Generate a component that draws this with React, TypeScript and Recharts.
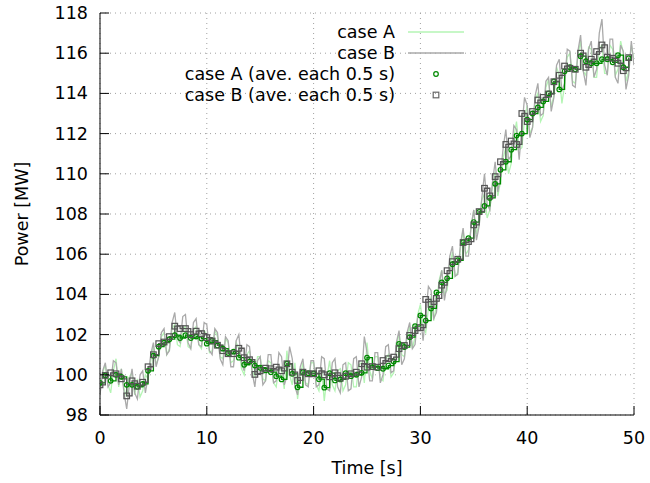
import React from 'react';
import { LineChart, Line, XAxis, YAxis, CartesianGrid } from 'recharts';

// raw signals, sampled every 0.25 s from 0 to 50 s
const caseARaw = [
  99.2, 100.1, 100.5, 99.5, 99.1, 100.2, 100.8, 99.4, 100.3, 99.3,
  98.9, 99.9, 100.1, 99.0, 99.8, 98.9, 99.2, 100.0, 99.8, 100.7,
  101.4, 100.5, 100.9, 101.9, 102.1, 101.0, 101.3, 102.3, 102.5, 101.5,
  101.4, 102.3, 102.4, 101.4, 101.3, 102.2, 102.4, 101.5, 101.3, 102.2,
  102.0, 101.1, 101.2, 102.2, 101.9, 100.9, 100.8, 101.8, 101.6, 100.6,
  100.7, 101.6, 101.3, 100.3, 100.0, 101.0, 101.2, 100.2, 99.9, 100.9,
  100.9, 99.8, 99.7, 100.7, 100.6, 99.6, 99.4, 100.4, 100.2, 99.3,
  101.2, 100.0, 99.5, 100.6, 98.8, 99.9, 100.6, 99.6, 99.5, 100.6,
  100.6, 99.5, 99.2, 100.3, 98.7, 99.9, 100.7, 99.5, 99.2, 100.2,
  100.3, 99.2, 99.5, 100.6, 100.5, 99.4, 99.4, 100.5, 100.6, 99.6,
  101.6, 100.2, 99.8, 100.9, 100.9, 99.8, 99.7, 100.8, 101.0, 99.9,
  100.1, 101.2, 102.1, 101.0, 100.9, 101.9, 102.4, 101.3, 101.9, 103.0,
  103.5, 102.4, 102.1, 103.3, 103.9, 102.7, 103.5, 104.7, 105.2, 104.0,
  104.2, 105.4, 106.1, 104.9, 105.1, 106.3, 107.2, 106.0, 106.2, 107.4,
  108.2, 107.0, 107.5, 108.7, 109.0, 107.8, 108.2, 109.4, 110.1, 108.9,
  109.6, 110.8, 111.3, 110.0, 110.5, 111.8, 112.6, 111.2, 111.3, 112.7,
  113.4, 112.0, 112.3, 113.7, 114.0, 112.6, 112.9, 114.3, 114.7, 113.3,
  113.9, 115.3, 114.9, 113.5, 114.4, 115.8, 116.0, 114.6, 114.5, 115.9,
  116.6, 115.1, 114.9, 116.3, 116.2, 114.8, 114.8, 116.2, 116.4, 115.0,
  115.0, 116.4, 116.2, 114.9, 115.2, 116.6, 116.0, 114.6, 115.1, 116.4,
  115.6,
];

const caseBRaw = [
  99.0, 100.2, 100.6, 99.4, 99.6, 100.7, 100.6, 99.5, 100.3, 99.1,
  98.3, 99.5, 100.3, 99.1, 98.8, 100.0, 100.2, 99.1, 99.9, 101.0,
  101.6, 100.4, 100.9, 102.1, 102.3, 101.0, 101.2, 102.6, 103.1, 101.8,
  101.6, 102.9, 103.0, 101.6, 101.3, 102.6, 102.8, 101.5, 101.4, 102.6,
  102.5, 101.2, 101.0, 102.3, 102.1, 100.8, 100.5, 101.9, 101.7, 100.4,
  100.4, 101.7, 102.0, 100.6, 100.2, 101.5, 101.4, 100.1, 99.4, 100.7,
  100.9, 99.5, 99.7, 101.0, 101.0, 99.6, 99.7, 101.1, 100.9, 99.5,
  99.9, 101.4, 100.8, 99.4, 99.0, 100.4, 100.8, 99.5, 99.4, 100.7,
  100.7, 99.4, 99.5, 100.9, 100.8, 99.3, 99.2, 100.6, 100.8, 99.4,
  99.1, 100.5, 100.6, 99.2, 99.3, 100.8, 100.9, 99.4, 99.9, 101.9,
  101.1, 99.7, 99.7, 101.1, 101.1, 99.6, 100.0, 101.4, 101.5, 100.1,
  100.2, 101.6, 102.2, 100.5, 100.8, 102.1, 102.6, 101.3, 101.5, 102.9,
  103.0, 101.7, 103.0, 104.4, 104.2, 102.8, 103.1, 104.5, 105.2, 103.7,
  104.5, 105.9, 106.4, 104.9, 105.0, 106.5, 107.3, 105.9, 105.9, 107.4,
  108.2, 106.7, 107.4, 108.8, 110.0, 108.5, 108.2, 109.6, 110.6, 109.1,
  109.9, 111.3, 112.2, 110.7, 110.9, 112.4, 112.2, 110.7, 112.3, 113.8,
  113.4, 111.8, 112.3, 113.9, 114.5, 112.9, 113.0, 114.6, 114.8, 113.1,
  113.8, 115.4, 115.7, 114.1, 114.5, 116.2, 116.1, 114.4, 114.3, 116.1,
  116.9, 115.1, 114.4, 116.2, 116.6, 114.8, 115.2, 117.0, 117.7, 115.4,
  114.9, 116.7, 116.7, 114.8, 114.5, 116.4, 116.1, 114.2, 114.9, 116.6,
  115.4,
];

// averages over each 0.5 s window, t = 0, 0.5, ... 49.5
const caseAAve = [
  99.6, 99.97, 99.7, 100.0, 99.9, 99.5, 99.5, 99.4, 99.55, 100.2,
  100.95, 101.4, 101.6, 101.77, 101.97, 101.83, 101.97, 101.83, 101.9, 101.8,
  101.55, 101.7, 101.46, 101.3, 101.08, 101.15, 100.85, 100.5, 100.65, 100.46,
  100.35, 100.22, 100.13, 99.93, 99.77, 100.55, 100.05, 99.38, 100.13, 100.08,
  100.07, 99.78, 99.36, 100.08, 99.72, 99.77, 100.08, 99.93, 100.0, 100.1,
  100.85, 100.38, 100.33, 100.3, 100.46, 100.66, 101.54, 101.38, 101.87, 102.42,
  102.95, 102.7, 103.3, 104.1, 104.6, 104.8, 105.5, 105.7, 106.6, 106.8,
  107.6, 108.1, 108.4, 108.8, 109.5, 110.2, 110.6, 111.2, 111.9, 112.0,
  112.7, 113.0, 113.3, 113.6, 114.0, 114.6, 114.2, 115.1, 115.3, 115.2,
  115.85, 115.6, 115.5, 115.5, 115.7, 115.7, 115.55, 115.9, 115.3, 115.75,
];

const caseBAve = [
  99.5, 99.97, 100.1, 100.05, 99.8, 98.95, 99.7, 99.43, 99.63, 100.4,
  101.0, 101.55, 101.63, 101.9, 102.42, 102.3, 102.3, 102.0, 102.17, 102.05,
  101.85, 101.68, 101.47, 101.2, 101.05, 101.05, 101.32, 100.85, 100.75, 100.02,
  100.2, 100.33, 100.3, 100.38, 100.2, 100.55, 100.13, 99.72, 100.13, 100.05,
  100.05, 100.2, 100.0, 99.9, 100.1, 99.83, 99.93, 100.05, 100.13, 100.55,
  100.38, 100.41, 100.38, 100.71, 100.8, 100.88, 101.3, 101.46, 101.96, 102.2,
  102.35, 103.75, 103.5, 103.8, 104.46, 105.18, 105.63, 105.75, 106.58, 106.63,
  107.46, 108.12, 109.28, 108.9, 109.86, 110.6, 111.46, 111.63, 111.46, 113.0,
  112.6, 113.1, 113.67, 113.8, 113.97, 114.58, 114.9, 115.36, 115.25, 115.2,
  116.0, 115.3, 115.7, 116.08, 116.41, 115.8, 115.75, 115.5, 115.13, 115.78,
];

const xTicks = [0, 10, 20, 30, 40, 50];
const yTicks = [98, 100, 102, 104, 106, 108, 110, 112, 114, 116, 118];

const RAW_STEP = 0.25;
const AVE_STEP = 0.5;

const rawA = caseARaw.map((v, i) => ({ t: i * RAW_STEP, v }));
const rawB = caseBRaw.map((v, i) => ({ t: i * RAW_STEP, v }));
const aveA = caseAAve.map((v, i) => ({ t: i * AVE_STEP, v }));
const aveB = caseBAve.map((v, i) => ({ t: i * AVE_STEP, v }));

const FONT = '"DejaVu Sans", sans-serif';
const FS = 17.5;
const TICK_LEN = 9;

const BottomTick = ({ x, y, payload }: any) => (
  <g>
    <line x1={x} y1={y} x2={x} y2={y - TICK_LEN} stroke="#000" />
    <text x={x} y={y + 29} textAnchor="middle" fontSize={FS} fontFamily={FONT} fill="#000">
      {payload.value}
    </text>
  </g>
);
const TopTick = ({ x, y }: any) => (
  <line x1={x} y1={y} x2={x} y2={y + TICK_LEN} stroke="#000" />
);
const LeftTick = ({ x, y, payload }: any) => (
  <g>
    <line x1={x} y1={y} x2={x + TICK_LEN} y2={y} stroke="#000" />
    <text x={x - 12} y={y + 6} textAnchor="end" fontSize={FS} fontFamily={FONT} fill="#000">
      {payload.value}
    </text>
  </g>
);
const RightTick = ({ x, y }: any) => (
  <line x1={x} y1={y} x2={x - TICK_LEN} y2={y} stroke="#000" />
);

const circleDot = (p: any) =>
  p.cx == null ? null : (
    <circle key={`c${p.index}`} cx={p.cx} cy={p.cy} r={2.3} fill="none" stroke="#008a00" strokeWidth={1.2} />
  );
const squareDot = (p: any) =>
  p.cx == null ? null : (
    <rect key={`s${p.index}`} x={p.cx - 2.8} y={p.cy - 2.8} width={5.6} height={5.6} fill="none" stroke="#555" strokeWidth={1.2} />
  );

const legendRows = [
  { label: 'case A', kind: 'line', color: '#b4f5b4' },
  { label: 'case B', kind: 'line', color: '#aaaaaa' },
  { label: 'case A (ave. each 0.5 s)', kind: 'circle', color: '#008a00' },
  { label: 'case B (ave. each 0.5 s)', kind: 'square', color: '#666' },
];

const KeyBox = () => (
  <svg width={650} height={120} style={{ position: 'absolute', left: 0, top: 0, pointerEvents: 'none' }}>
    {legendRows.map((r, i) => {
      const y = 32 + i * 21;
      return (
        <g key={r.label}>
          <text x={395} y={y + 6} textAnchor="end" fontSize={FS} fontFamily={FONT} fill="#000">
            {r.label}
          </text>
          {r.kind === 'line' && <line x1={408} x2={464} y1={y} y2={y} stroke={r.color} strokeWidth={1.3} />}
          {r.kind === 'circle' && <circle cx={436} cy={y} r={2.3} fill="none" stroke={r.color} strokeWidth={1.2} />}
          {r.kind === 'square' && <rect x={433.2} y={y - 2.8} width={5.6} height={5.6} fill="none" stroke={r.color} strokeWidth={1.2} />}
        </g>
      );
    })}
  </svg>
);

const YLabel = ({ viewBox }: any) => {
  const cx = viewBox.x + 22;
  const cy = viewBox.y + viewBox.height / 2;
  return (
    <text x={cx} y={cy} transform={`rotate(-90 ${cx} ${cy})`} textAnchor="middle" dominantBaseline="central"
      fontSize={FS} fontFamily={FONT} fill="#000">
      Power [MW]
    </text>
  );
};

export default function App() {
  return (
    <div style={{ position: 'relative', width: 650, height: 483, background: '#fff' }}>
      <style>{`body{margin:0}`}</style>
      <LineChart width={650} height={483} margin={{ top: 13, right: 16, bottom: 0, left: 0 }}>
        <CartesianGrid stroke="#a0a0a0" strokeDasharray="1 4" horizontalValues={yTicks} verticalValues={xTicks} />
        <XAxis dataKey="t" type="number" domain={[0, 50]} ticks={xTicks} interval={0} allowDataOverflow
          height={68} tickSize={0} tickMargin={0} tickLine={false} tick={<BottomTick />}
          axisLine={{ stroke: '#000' }}
          label={{ value: 'Time [s]', position: 'insideBottom', offset: 9, fontSize: FS, fontFamily: FONT, fill: '#000' }} />
        <XAxis xAxisId="top" orientation="top" dataKey="t" type="number" domain={[0, 50]} ticks={xTicks} interval={0}
          allowDataOverflow height={0} tickSize={0} tickMargin={0} tickLine={false} tick={<TopTick />}
          axisLine={{ stroke: '#000' }} />
        <YAxis type="number" domain={[98, 118]} ticks={yTicks} interval={0} allowDataOverflow width={100}
          tickSize={0} tickMargin={0} tickLine={false} tick={<LeftTick />} axisLine={{ stroke: '#000' }}
          label={<YLabel />} />
        <YAxis yAxisId="right" orientation="right" type="number" domain={[98, 118]} ticks={yTicks} interval={0}
          allowDataOverflow width={0} tickSize={0} tickMargin={0} tickLine={false} tick={<RightTick />}
          axisLine={{ stroke: '#000' }} />
        <Line data={rawA} dataKey="v" type="linear" stroke="#b4f5b4" strokeWidth={1.3} dot={false} isAnimationActive={false} />
        <Line data={rawB} dataKey="v" type="linear" stroke="#aaaaaa" strokeWidth={1.3} dot={false} isAnimationActive={false} />
        <Line data={aveA} dataKey="v" type="stepAfter" stroke="#008a00" strokeWidth={1.3} dot={circleDot} isAnimationActive={false} />
        <Line data={aveB} dataKey="v" type="stepAfter" stroke="#555" strokeWidth={1.3} dot={squareDot} isAnimationActive={false} />
      </LineChart>
      <KeyBox />
    </div>
  );
}
